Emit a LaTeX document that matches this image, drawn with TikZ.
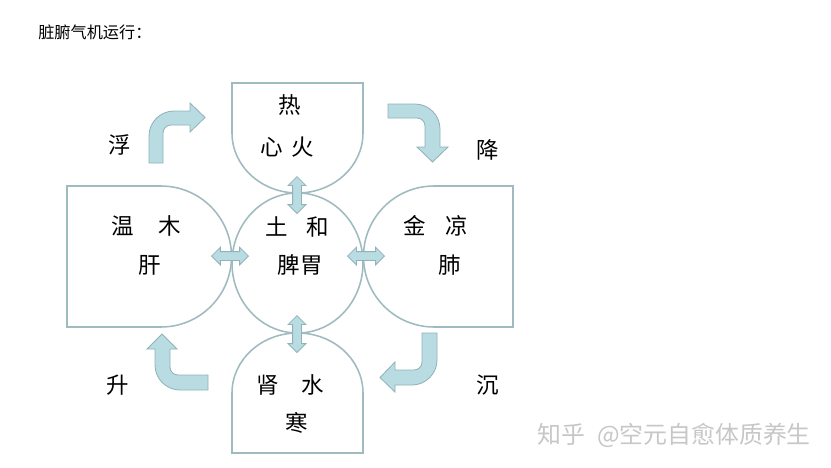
\documentclass[tikz,border=0pt]{standalone}
\usepackage{fontspec}
\newfontfamily\cjk{Noto Sans CJK SC}
\usetikzlibrary{shapes.arrows}
\definecolor{edgegray}{HTML}{9FBBBF}
\definecolor{flowfill}{HTML}{B9DCE2}
\definecolor{flowedge}{HTML}{90B3B9}
\tikzstyle{organ} = [
    font=\cjk\fontsize{16}{16}\selectfont,
    inner sep=0pt
]
\tikzstyle{motion} = [
    font=\cjk\fontsize{16}{16}\selectfont,
    inner sep=0pt
]
\tikzstyle{caption} = [
    font=\cjk\fontsize{11.5}{11.5}\selectfont,
    inner sep=0pt,
    anchor=west
]
\tikzstyle{outline} = [
    draw=edgegray,
    line width=1.1pt
]
\tikzstyle{turnarrow} = [
    fill=flowfill,
    draw=flowedge,
    line width=0.6pt
]
\tikzstyle{link} = [
    double arrow,
    fill=flowfill,
    draw=flowedge,
    line width=0.6pt,
    inner sep=0.1cm,
    double arrow head extend=0.11cm,
    minimum height=0.92cm
]

\begin{document}
\begin{tikzpicture}[x=0.025cm, y=-0.025cm]

\fill[white] (0,0) rectangle (831,468);
\useasboundingbox (0,0) rectangle (831,468);

\node (title) [caption] at (38,32) {脏腑气机运行：};

% five organ shapes
\draw[outline] (232,133) -- (232,83) -- (363,83) -- (363,133)
    arc (0:180:65.5 and 60) -- cycle;
\draw[outline] (67,186) -- (161,186) arc (270:450:70.5) -- (67,327) -- cycle;
\draw[outline] (513,186) -- (434,186) arc (270:90:70.5) -- (513,327) -- cycle;
\draw[outline] (232,453) -- (232,393) arc (180:360:65.5 and 60)
    -- (363,453) -- cycle;
\draw[outline] (297.5,263) ellipse (65.5 and 70);

\node (heat) [organ] at (290,105) {热};
\node (heart) [organ] at (287,147) {心\hspace{0.4em}火};
\node (earth) [organ] at (297,227) {土\hspace{0.8em}和};
\node (spleen) [organ] at (300,265) {脾胃};
\node (warm) [organ] at (146,226) {温\hspace{1.1em}木};
\node (liver) [organ] at (150,265) {肝};
\node (metal) [organ] at (436,226) {金\hspace{0.85em}凉};
\node (lung) [organ] at (450,265) {肺};
\node (water) [organ] at (290,385) {肾\hspace{1em}水};
\node (cold) [organ] at (297,423) {寒};

\node (float) [motion] at (120,145) {浮};
\node (sink) [motion] at (488,150) {降};
\node (rise) [motion] at (118,385) {升};
\node (fall) [motion] at (488,385) {沉};

% links between spleen and the others
\node (link-heart) [link, rotate=90] at (297,195) {};
\node (link-kidney) [link, rotate=90] at (297,334) {};
\node (link-liver) [link] at (230,256) {};
\node (link-lung) [link] at (366,256) {};

% turning arrows
\draw[turnarrow] (149,163) -- (149,136) arc (180:270:25) -- (190,111) -- (190,103)
    -- (205,117.5) -- (190,132) -- (190,125) -- (171,125) arc (270:180:8)
    -- (163,163) -- cycle;
\draw[turnarrow] (388,104) -- (415,104) arc (270:360:25) -- (440,147) -- (448,147)
    -- (432.5,162) -- (417,147) -- (425,147) -- (425,126) arc (0:-90:8)
    -- (388,118) -- cycle;
\draw[turnarrow] (208,390) -- (180,390) arc (90:180:25) -- (155,349) -- (147,349)
    -- (162,334) -- (177,349) -- (170,349) -- (170,367) arc (180:90:8)
    -- (208,375) -- cycle;
\draw[turnarrow] (437,333) -- (437,360) arc (0:90:25) -- (395,385) -- (395,392)
    -- (380,377.5) -- (395,362) -- (395,370) -- (414,370) arc (90:0:8)
    -- (422,333) -- cycle;

\node (mark) [caption, font=\cjk\fontsize{17}{17}\selectfont, text=black!22]
    at (537,435) {知乎\hspace{0.5em}@空元自愈体质养生};

\end{tikzpicture}
\end{document}
